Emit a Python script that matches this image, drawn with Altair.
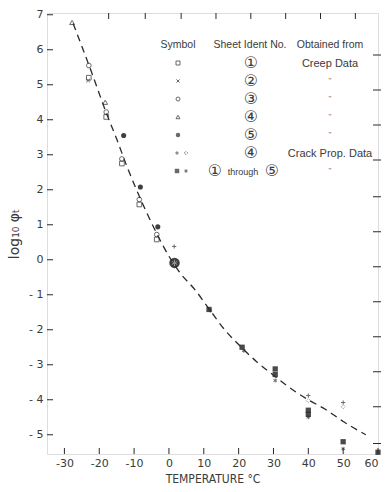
import altair as alt
import pandas as pd

# ---------------- data ----------------
curve_t = [-27.5, -25, -22, -18, -15, -12, -8, -4, 0, 3, 7.5, 11.7, 16, 21, 25, 30, 35, 40, 45, 50, 56.5]
curve_y = [6.75, 6.1, 5.3, 4.2, 3.45, 2.65, 1.7, 0.85, 0.1, -0.35, -0.86, -1.43, -2.0, -2.52, -2.9, -3.3, -3.68, -4.0, -4.28, -4.62, -5.0]

sq_t = [-23, -18, -13.5, -8.5, -3.5]
sq_y = [5.2, 4.08, 2.75, 1.58, 0.58]
x_t = [-23.2]
x_y = [5.12]
circ_t = [-23, -18, -13.5, -8.5, -3.5]
circ_y = [5.55, 4.22, 2.88, 1.72, 0.72]
tri_t = [-27.8, -18.3]
tri_y = [6.78, 4.5]
fc_t = [-13, -8.2, -3.2]
fc_y = [3.55, 2.08, 0.94]
plus_t = [1.5, 40, 50]
plus_y = [0.38, -3.88, -4.08]
dia_t = [40, 50]
dia_y = [-4.02, -4.2]
fsq_t = [11.5, 21, 30.5, 30.5, 40, 40, 50, 60]
fsq_y = [-1.42, -2.5, -3.12, -3.28, -4.3, -4.42, -5.2, -5.5]
ast_t = [11.9, 21.5, 30.5, 40, 50]
ast_y = [-1.45, -2.6, -3.45, -4.5, -5.4]
big_t = [1.6]
big_y = [-0.09]

x_ticks = [-30, -20, -10, 0, 10, 20, 30, 40, 50, 60]
y_ticks = [-5, -4, -3, -2, -1, 0, 1, 2, 3, 4, 5, 6, 7]
top_ticks = [-17.3, -6.8, 3.5, 13.5, 23.5, 33.5, 43.5, 53.5]
right_ticks = [5.85, 4.85, 3.85, 2.85, 1.8, 0.8, -0.2, -1.2, -2.2, -3.2, -4.2, -5.25]

legend_symbols = ["square", "x", "circle", "triangle", "filled circle", "plus diamond", "filled square asterisk"]
legend_sheet = ["①", "②", "③", "④", "⑤", "④", "① through ⑤"]
legend_source = ["Creep Data", '"', '"', '"', '"', "Crack Prop. Data", '"']

# ---------------- layout ----------------
W, H = 331, 441
INK = "#2a2a2a"
TXT = "#3a3a3a"
FONT = "DejaVu Sans"
LFONT = "Liberation Sans"
NARROW = "'Liberation Sans Narrow', 'DejaVu Sans Condensed', 'Liberation Sans', sans-serif"

xs = alt.Scale(domain=[-35, 60], nice=False, zero=False)
ys = alt.Scale(domain=[-5.55, 7.05], nice=False, zero=False)

X_AXIS = alt.Axis(values=x_ticks, ticks=False, domain=False, grid=False,
                  labelFontSize=11, labelColor=TXT, labelFont=FONT,
                  labelPadding=3, title="TEMPERATURE °C", titleFont=NARROW,
                  titleFontSize=12, titleFontWeight="normal", titleColor=TXT,
                  titlePadding=5, labelExpr="replace(datum.label, '−', '-')")
Y_AXIS = alt.Axis(values=y_ticks, ticks=False, domain=False, grid=False,
                  labelFontSize=11, labelColor=TXT, labelFont=FONT,
                  labelPadding=4, title="log₁₀ φₜ", titleFont=FONT,
                  titleFontSize=14, titleFontWeight="normal", titleColor=TXT,
                  titlePadding=7, labelExpr="replace(datum.label, '−', '- ')")

X_PATH = "M-1,-1L1,1M-1,1L1,-1"
PLUS_PATH = "M-1,0L1,0M0,-1L0,1"
AST_PATH = "M0,-1L0,1M-0.87,-0.5L0.87,0.5M-0.87,0.5L0.87,-0.5"


def df(t, y):
    return pd.DataFrame({"t": t, "y": y})


def enc(chart):
    return chart.encode(
        x=alt.X("t:Q", scale=xs, axis=X_AXIS),
        y=alt.Y("y:Q", scale=ys, axis=Y_AXIS),
    )


curve = enc(alt.Chart(df(curve_t, curve_y)).mark_line(
    color=INK, strokeDash=[7, 5], strokeWidth=1.3, interpolate="monotone"))

pts = [
    enc(alt.Chart(df(sq_t, sq_y)).mark_point(shape="square", size=22, color=INK, strokeWidth=1)),
    enc(alt.Chart(df(x_t, x_y)).mark_point(shape=X_PATH, size=14, color=INK, strokeWidth=1)),
    enc(alt.Chart(df(circ_t, circ_y)).mark_point(shape="circle", size=22, color=INK, strokeWidth=1)),
    enc(alt.Chart(df(tri_t, tri_y)).mark_point(shape="triangle-up", size=24, color=INK, strokeWidth=1)),
    enc(alt.Chart(df(fc_t, fc_y)).mark_point(shape="circle", size=26, filled=True, color=INK, opacity=0.9)),
    enc(alt.Chart(df(plus_t, plus_y)).mark_point(shape=PLUS_PATH, size=18, color=INK, strokeWidth=1)),
    enc(alt.Chart(df(dia_t, dia_y)).mark_point(shape="diamond", size=18, color=INK, strokeWidth=0.8, strokeDash=[1, 1])),
    enc(alt.Chart(df(fsq_t, fsq_y)).mark_point(shape="square", size=28, filled=True, color=INK, opacity=0.85)),
    enc(alt.Chart(df(ast_t, ast_y)).mark_point(shape=AST_PATH, size=16, color=INK, strokeWidth=1)),
    enc(alt.Chart(df(big_t, big_y)).mark_point(shape="circle", size=110, filled=True, color=INK, opacity=0.9)),
    enc(alt.Chart(df(big_t, big_y)).mark_point(shape=AST_PATH, size=40, color="#bbbbbb", strokeWidth=1)),
]

# tick marks drawn inside the frame
tick_layers = [
    alt.Chart(pd.DataFrame({"t": x_ticks})).mark_rule(color=INK, strokeWidth=1).encode(
        x=alt.X("t:Q", scale=xs, axis=X_AXIS), y=alt.value(H), y2=alt.value(H - 6)),
    alt.Chart(pd.DataFrame({"t": top_ticks})).mark_rule(color=INK, strokeWidth=1).encode(
        x=alt.X("t:Q", scale=xs, axis=X_AXIS), y=alt.value(0), y2=alt.value(6)),
    alt.Chart(pd.DataFrame({"y": y_ticks})).mark_rule(color=INK, strokeWidth=1).encode(
        y=alt.Y("y:Q", scale=ys, axis=Y_AXIS), x=alt.value(0), x2=alt.value(6)),
    alt.Chart(pd.DataFrame({"y": right_ticks})).mark_rule(color=INK, strokeWidth=1).encode(
        y=alt.Y("y:Q", scale=ys, axis=Y_AXIS), x=alt.value(W - 5), x2=alt.value(W + 3)),
]

# ---------------- hand-drawn style legend table ----------------
one = pd.DataFrame({"a": [0]})


def txt(s, x, y, size=10.5, font=LFONT, color=TXT):
    return alt.Chart(one).mark_text(text=s, fontSize=size, font=font, color=color,
                                    align="center", baseline="middle").encode(
        x=alt.value(x), y=alt.value(y))


def sym(shape, x, y, size=16, filled=False, dash=None):
    kw = dict(shape=shape, size=size, color=INK, filled=filled, strokeWidth=1)
    if dash:
        kw["strokeDash"] = dash
    return alt.Chart(one).mark_point(**kw).encode(x=alt.value(x), y=alt.value(y))


COL_SYM, COL_SHEET, COL_SRC = 131, 203, 283
HEAD_Y = 32
ROW0, DY = 50, 18
legend = [txt("Symbol", COL_SYM, HEAD_Y), txt("Sheet Ident No.", COL_SHEET, HEAD_Y),
          txt("Obtained  from", COL_SRC, HEAD_Y)]

sym_specs = [
    [("square", 0, False, None, 16)],
    [(X_PATH, 0, False, None, 10)],
    [("circle", 0, False, None, 16)],
    [("triangle-up", 0, False, None, 16)],
    [("circle", 0, True, None, 20)],
    [(PLUS_PATH, -1, False, None, 12), ("diamond", 8, False, [1, 1], 14)],
    [("square", -1, True, None, 20), (AST_PATH, 8, False, None, 12)],
]
for i, (label, source, specs) in enumerate(zip(legend_symbols, legend_source, sym_specs)):
    yy = ROW0 + i * DY
    for shape, dx, filled, dash, size in specs:
        legend.append(sym(shape, COL_SYM + dx, yy, size=size, filled=filled, dash=dash))
    sheet = legend_sheet[i]
    if " through " in sheet:
        a, b = sheet.split(" through ")
        legend.append(txt(a, COL_SHEET - 35, yy, size=16, font="DejaVu Sans"))
        legend.append(txt("through", COL_SHEET - 7, yy + 1, size=9))
        legend.append(txt(b, COL_SHEET + 22, yy, size=16, font="DejaVu Sans"))
    else:
        legend.append(txt(sheet, COL_SHEET + 1, yy, size=16, font="DejaVu Sans"))
    if source == '"':
        legend.append(txt(source, COL_SRC, yy, size=8, color="#666"))
    else:
        legend.append(txt(source, COL_SRC, yy + 1, size=11))

chart = alt.layer(*tick_layers, curve, *pts, *legend).properties(
    width=W, height=H,
    autosize=alt.AutoSizeParams(type="none"),
    padding={"left": 47, "top": 13, "right": 11, "bottom": 38},
).configure_view(stroke=INK, strokeWidth=1.2).configure(background="white")

chart.save("out.html", embed_options={"renderer": "svg", "actions": False})
